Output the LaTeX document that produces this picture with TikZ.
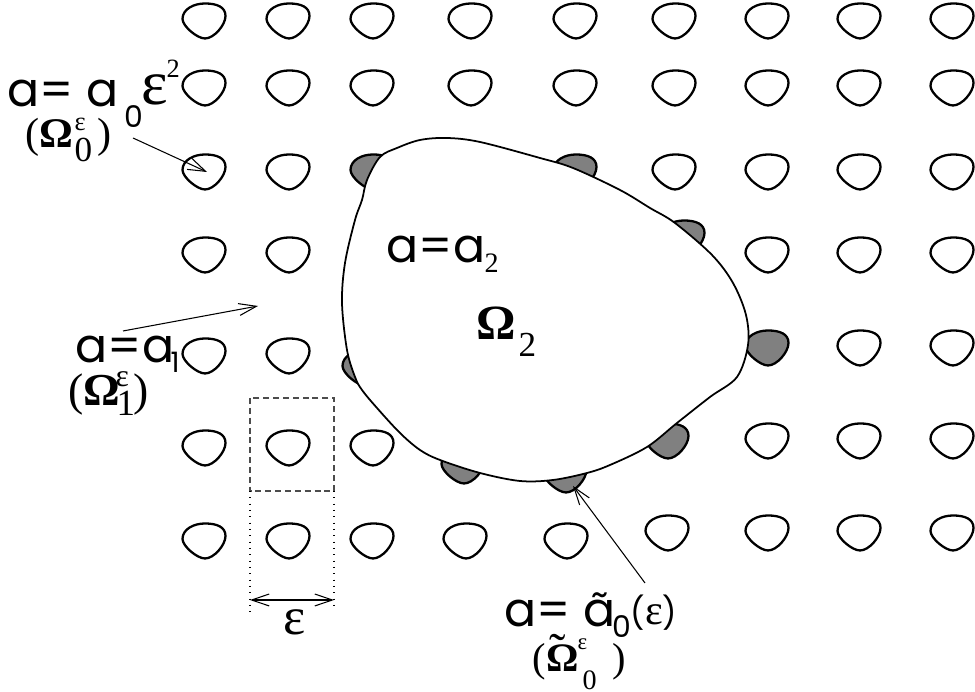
\documentclass[tikz,border=0pt]{standalone}
\usepackage{fontspec}
\usetikzlibrary{arrows.meta}
\newfontfamily\geofont{Poppins}
\newfontfamily\tmsfont{Liberation Serif}
\newcommand{\geo}[1]{\geofont\fontsize{#1}{#1}\selectfont}
\newcommand{\tms}[1]{\tmsfont\fontsize{#1}{#1}\selectfont}

\begin{document}
\begin{tikzpicture}[x=0.01cm, y=-0.01cm,
  >={Straight Barb[length=5pt, width=3.4pt]},
  blobline/.style={line width=0.65pt, line join=round},
  pics/blob/.style={code={\draw[blobline, fill=#1] (1,17.5)
    .. controls (-7,17.5) and (-21.5,5) .. (-21.5,-2)
    .. controls (-21.5,-12) and (-10,-17.5) .. (1,-17.5)
    .. controls (13,-17.5) and (21.5,-14) .. (21.5,-5)
    .. controls (21.5,4) and (10,17.5) .. (1,17.5) -- cycle;}},
  pics/blob/.default=white,
  region/.style={line width=0.5pt, fill=white, line join=round},
  lbl/.style={inner sep=0pt, anchor=base west},
  arr/.style={->, line width=0.3pt},
  cell/.style={line width=0.35pt, black!70, dash pattern=on 1.7pt off 1.1pt},
  guide/.style={line width=0.4pt, dash pattern=on 0.3pt off 1.5pt},
]
\useasboundingbox (0,0) rectangle (975,692);

% inclusions in the matrix
\foreach \y in {21,88}
  \foreach \x in {204,288,372,470,575,674,767,859,952}
    \pic at (\x,\y) {blob};
\foreach \x in {204,288,674,767,859,952} \pic at (\x,172) {blob};
\foreach \x in {204,288,767,859,952} \pic at (\x,255) {blob};
\foreach \x/\y in {204/356,288/356,859/348,952/348} \pic at (\x,\y) {blob};
\foreach \x/\y in {204/448,288/448,372/448,767/441,859/441,952/441} \pic at (\x,\y) {blob};
\foreach \x/\y in {204/541,288/541,372/541,465/541,566/541,667/533,767/533,859/533,952/533}
  \pic at (\x,\y) {blob};

% inclusions cut by the boundary
\foreach \x/\y in {372/172,575/172,683/238,364/368,767/348,463/466,565/475,667/441}
  \pic at (\x,\y) {blob=gray};

% the domain Omega_2
\draw[region] plot[smooth cycle, tension=0.55] coordinates {
  (420,140) (447,138) (480,142) (540,158) (573,168) (620,190) (650,208) (675,223)
  (712,255) (733,283) (746,315) (748,345) (737,377) (710,397) (677,423) (647,447)
  (610,465) (587,473) (553,480) (520,481) (480,473) (440,460) (420,450) (400,433)
  (377,408) (362,390) (355,377) (347,350) (342,303) (345,263) (355,220) (362,200)
  (367,180) (380,157) (397,148)};

% periodicity cell
\coordinate (cellnw) at (250,398);
\coordinate (cellse) at (334,491);
\draw[cell] (cellnw) rectangle (cellse);
\draw[guide] (cellse -| cellnw) -- ++(0,124);
\draw[guide] (cellse) -- ++(0,117);
\coordinate (epsl) at (250,600);
\coordinate (epsr) at (334,600);
\draw[arr, <->] (epsl) -- (epsr);
\node[lbl, font=\tms{15}] (epslbl) at (283,635) {ε};

% labels
\node[lbl, font=\geo{13.5}] (azero) at (7,107) {a= a};
\node[lbl, font=\geo{8.5}] (azerosub) at (124,128) {0};
\node[lbl, font=\tms{18}] (azeroeps) at (141,105) {ε};
\node[lbl, font=\tms{7.5}] (azerosup) at (166,78) {2};
\node[lbl, font=\tms{12}] (omzero) at (25,148) {(\textbf{Ω}};
\node[lbl, font=\tms{7.5}] (omzerosup) at (74,131) {ε};
\node[lbl, font=\tms{10}] (omzerosub) at (74,162) {0};
\node[lbl, font=\tms{12}] (omzeroend) at (97,148) {)};

\node[lbl, font=\geo{13.5}] (aone) at (75,363) {a=a};
\node[lbl, font=\geo{8}] (aonesub) at (170,373) {1};
\node[lbl, font=\tms{13}] (omone) at (68,406) {(\textbf{Ω}};
\node[lbl, font=\tms{9}] (omonesup) at (115,387) {ε};
\node[lbl, font=\tms{10.5}] (omonesub) at (116,416) {1};
\node[lbl, font=\tms{13}] (omoneend) at (133,406) {)};

\node[lbl, font=\geo{13.5}] (atwo) at (386,263) {a=a};
\node[lbl, font=\tms{8}] (atwosub) at (484,273) {2};
\node[lbl, font=\tms{14}\bfseries] (omtwo) at (476,340) {Ω};
\node[lbl, font=\tms{10}] (omtwosub) at (518,357) {2};

\node[lbl, font=\geo{13.5}] (atil) at (504,627) {a= ã};
\node[lbl, font=\geo{8.5}] (atilsub) at (612,638) {0};
\node[lbl, font=\geo{9}] (atileps) at (630,625) {({\tms{12}ε})};
\node[lbl, font=\tms{11.5}] (omtil) at (532,672) {(\textbf{Ω}};
\node[inner sep=0pt, anchor=base, font=\tms{14}] (omtiltilde) at (558,668) {˜};
\node[lbl, font=\tms{6.5}] (omtilsup) at (577,650) {ε};
\node[lbl, font=\tms{8}] (omtilsub) at (582,690) {0};
\node[lbl, font=\tms{11.5}] (omtilend) at (612,672) {)};

% pointers
\coordinate (zerotail) at (133,138);
\coordinate (zerotip) at (207,172);
\coordinate (onetail) at (123,331);
\coordinate (onetip) at (258,306);
\coordinate (tiltail) at (645,583);
\coordinate (tiltip) at (573,486);
\draw[arr] (zerotail) -- (zerotip);
\draw[arr] (onetail) -- (onetip);
\draw[arr] (tiltail) -- (tiltip);
\end{tikzpicture}
\end{document}
